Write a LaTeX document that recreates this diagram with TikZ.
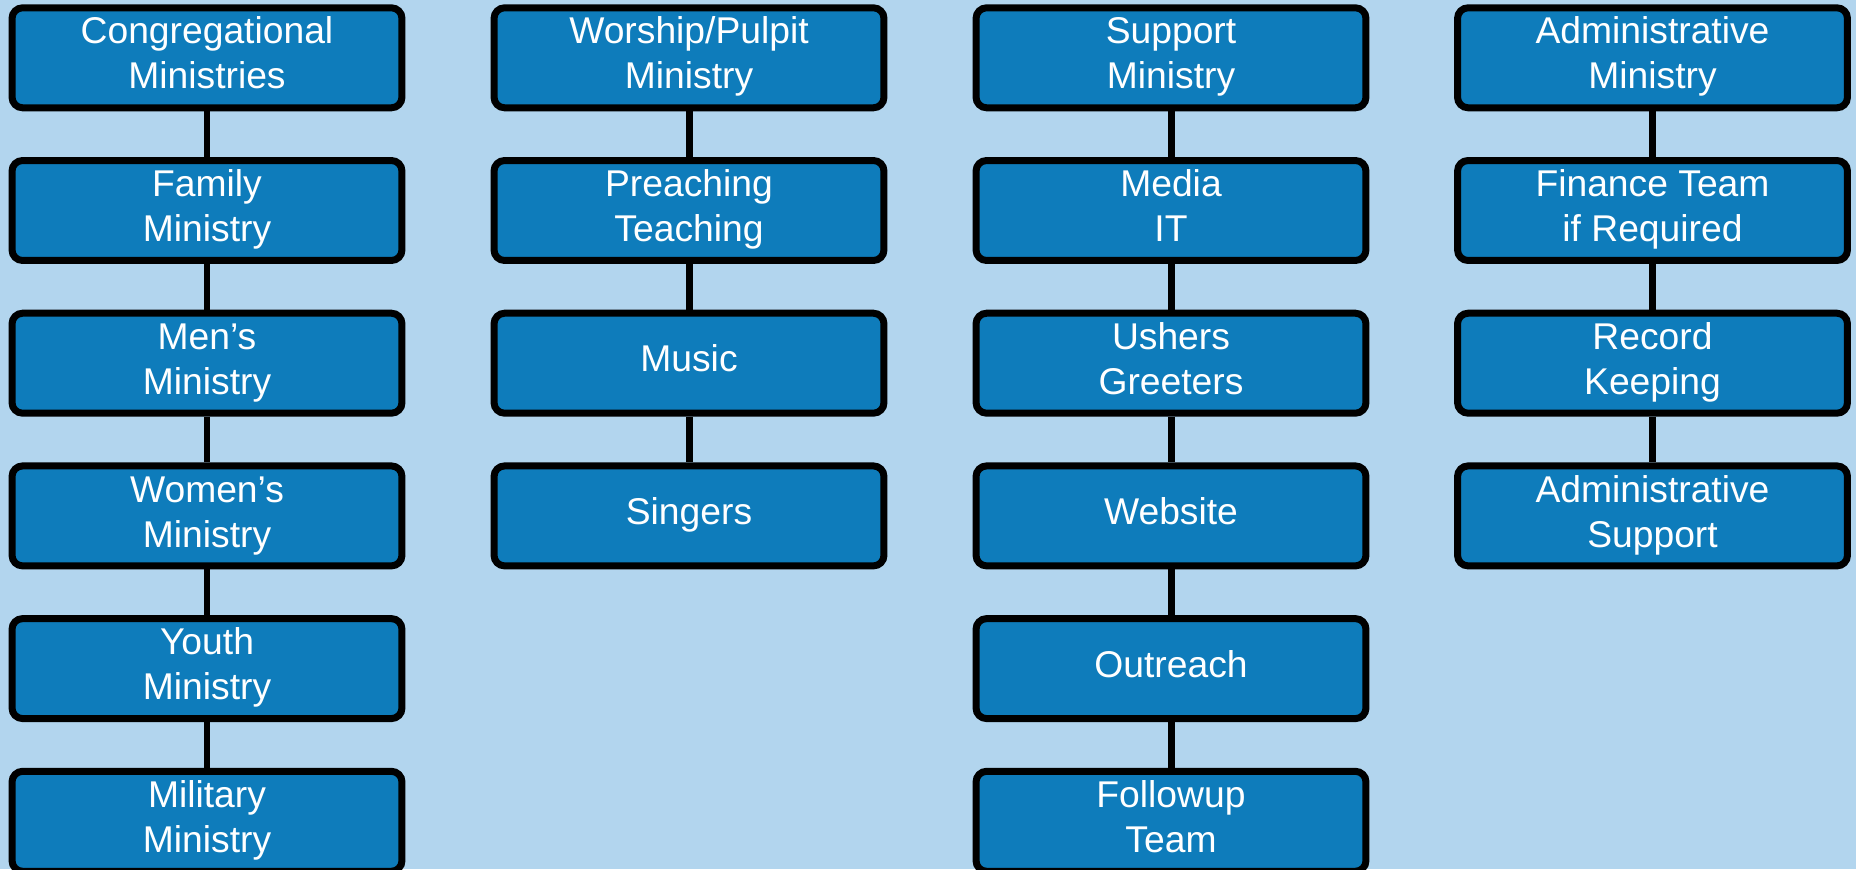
\documentclass[tikz,border=0pt]{standalone}
\usepackage{fontspec}
\setmainfont{Liberation Sans}
\definecolor{sky}{HTML}{B2D5EE}
\definecolor{boxblue}{HTML}{0E7CBB}

\begin{document}
\begin{tikzpicture}[x=0.02cm,y=-0.02cm,
    team/.style={draw=black,fill=boxblue,line width=3.98pt,rounded corners=6pt,
      minimum width=7.8cm,minimum height=2cm,inner sep=0pt,text=white,align=center,
      font=\fontsize{21.2}{25.6}\selectfont,text depth=0pt},
    one/.style={text height=9.8pt},
    two/.style={text height=35.4pt},
    link/.style={line width=3.98pt}]
  \fill[sky] (0,0) rectangle (1856,869);
  \useasboundingbox (0,0) rectangle (1856,869);
  % congregational column
  \node[team,two] (A1) at (207,57.8) {Congregational\\Ministries};
  \node[team,two] (A2) at (207,210.5) {Family\\Ministry};
  \node[team,two] (A3) at (207,363.2) {Men’s\\Ministry};
  \node[team,two] (A4) at (207,515.9) {Women’s\\Ministry};
  \node[team,two] (A5) at (207,668.6) {Youth\\Ministry};
  \node[team,two] (A6) at (207,821.3) {Military\\Ministry};
  % worship column
  \node[team,two] (B1) at (689,57.8) {Worship/Pulpit\\Ministry};
  \node[team,two] (B2) at (689,210.5) {Preaching\\Teaching};
  \node[team,one] (B3) at (689,363.2) {Music};
  \node[team,one] (B4) at (689,515.9) {Singers};
  % support column
  \node[team,two] (C1) at (1171,57.8) {Support\\Ministry};
  \node[team,two] (C2) at (1171,210.5) {Media\\IT};
  \node[team,two] (C3) at (1171,363.2) {Ushers\\Greeters};
  \node[team,one] (C4) at (1171,515.9) {Website};
  \node[team,one] (C5) at (1171,668.6) {Outreach};
  \node[team,two] (C6) at (1171,821.3) {Followup\\Team};
  % administrative column
  \node[team,two] (D1) at (1652.5,57.8) {Administrative\\Ministry};
  \node[team,two] (D2) at (1652.5,210.5) {Finance Team\\if Required};
  \node[team,two] (D3) at (1652.5,363.2) {Record\\Keeping};
  \node[team,two] (D4) at (1652.5,515.9) {Administrative\\Support};
  \foreach \a/\b in {A1/A2,A2/A3,A3/A4,A4/A5,A5/A6,B1/B2,B2/B3,B3/B4,
      C1/C2,C2/C3,C3/C4,C4/C5,C5/C6,D1/D2,D2/D3,D3/D4}
    \draw[link] (\a.south) -- (\b.north);
\end{tikzpicture}
\end{document}
